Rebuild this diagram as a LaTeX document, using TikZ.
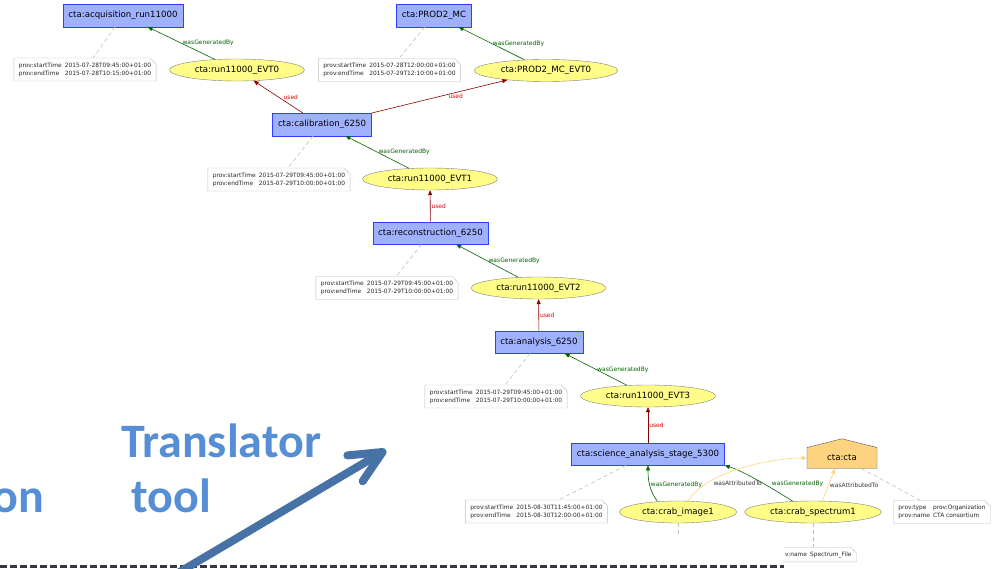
\documentclass[tikz,border=0pt]{standalone}
\usepackage{xcolor}
\usepackage{tikz}
\usepackage{fontspec}
\setmainfont{DejaVu Sans}
\newfontfamily\slidefont{Carlito}
\usetikzlibrary{
	arrows.meta,
	positioning,
	shapes.geometric,
	shapes.misc,
	shapes.symbols
}
\definecolor{actfill}{HTML}{9FB1FC}
\definecolor{actline}{HTML}{2F3FFF}
\definecolor{entfill}{HTML}{FFFC87}
\definecolor{entline}{HTML}{808080}
\definecolor{agtfill}{HTML}{FED37F}
\definecolor{agtline}{HTML}{505050}
\definecolor{notegray}{HTML}{BEBEBE}
\definecolor{wgbgreen}{HTML}{006400}
\definecolor{usedred}{HTML}{8B0000}
\definecolor{slideblue}{HTML}{558ED5}
\definecolor{arrowblue}{HTML}{4672A5}
\definecolor{dashgray}{HTML}{3A3545}
\newcommand{\notetable}[1]{%
	\begin{tabular}{@{}l@{\hspace{3pt}}l@{}}#1\end{tabular}}
\newcommand{\provtimes}[2]{\notetable{prov:startTime & #1\\prov:endTime & #2}}
\tikzset{
	activity/.style={
		rectangle, draw=actline, fill=actfill,
		font=\fontsize{8.6}{10}\selectfont,
		inner xsep=5.5pt, minimum height=22.5pt
	},
	entity/.style={
		ellipse, draw=entline, fill=entfill,
		font=\fontsize{8.6}{10}\selectfont,
		inner xsep=5.5pt, inner ysep=0pt, minimum height=22pt
	},
	agent/.style={
		signal, signal to=north, signal from=nowhere,
		signal pointer angle=152, draw=agtline, fill=agtfill,
		font=\fontsize{8.6}{10}\selectfont,
		minimum width=70pt, minimum height=25.5pt
	},
	provnote/.style={
		chamfered rectangle, chamfered rectangle corners=north east,
		chamfered rectangle sep=3pt, draw=notegray, fill=white,
		text=black!85, font=\fontsize{5.9}{8.3}\selectfont,
		inner xsep=2pt, inner ysep=0.2pt,
		path picture={
			\draw[notegray] ([xshift=-3pt]path picture bounding box.north east)
				|- ([yshift=-3pt]path picture bounding box.north east);
		}
	},
	wgb/.style={
		draw=wgbgreen, text=wgbgreen, line width=0.6pt,
		-{Triangle[length=5pt,width=4pt]},
		font=\fontsize{6}{7}\selectfont, inner sep=1pt
	},
	used/.style={
		draw=usedred, text=red!85!black, line width=0.6pt,
		-{Triangle[length=5pt,width=4pt]},
		font=\fontsize{6}{7}\selectfont, inner sep=1pt
	},
	wat/.style={
		draw=agtfill, text=black!80, line width=0.6pt,
		-{Triangle[length=5pt,width=4pt]},
		font=\fontsize{6}{7}\selectfont, inner sep=1pt
	},
	notelink/.style={
		draw=notegray, line width=0.6pt, dash pattern=on 4pt off 3pt
	},
	slidetext/.style={
		text=slideblue, inner sep=0pt,
		font=\slidefont\bfseries\fontsize{48}{55}\selectfont
	},
	bigarrow/.style={
		draw=arrowblue, line width=8pt, line cap=round,
		-{Straight Barb[length=32pt,width=30pt,round]}
	},
	slidedash/.style={
		draw=dashgray, line width=3pt, dash pattern=on 7pt off 3pt
	}
}

\begin{document}
\begin{tikzpicture}[x=1pt,y=-1pt]
	\useasboundingbox (0,0) rectangle (998,569);

	% slide text and the bottom rule
	\draw[slidedash] (0,566.5) -- (784,566.5);
	\node[slidetext,anchor=base west] (translator) at (121,457) {Translator};
	\node[slidetext,anchor=base west] (tool)       at (131.5,512) {tool};
	\node[slidetext,anchor=base west] (on)         at (-8,512) {on};

	% provenance graph
	\draw
		node [activity] (acq)   at (123,15.5)  {cta:acquisition\_run11000}
		node [activity] (prod)  at (434,15.5)  {cta:PROD2\_MC}
		node [entity]   (evt0)  at (237,70)    {cta:run11000\_EVT0}
		node [entity]   (mcevt) at (546,70.5)  {cta:PROD2\_MC\_EVT0}
		node [activity] (calib) at (322,124.5) {cta:calibration\_6250}
		node [entity]   (evt1)  at (430,179)   {cta:run11000\_EVT1}
		node [activity] (recon) at (430.5,233) {cta:reconstruction\_6250}
		node [entity]   (evt2)  at (538.5,288) {cta:run11000\_EVT2}
		node [activity] (ana)   at (539,342)   {cta:analysis\_6250}
		node [entity]   (evt3)  at (648,396)   {cta:run11000\_EVT3}
		node [activity] (sci)   at (648,454)   {cta:science\_analysis\_stage\_5300}
		node [entity]   (img)   at (678,512)   {cta:crab\_image1}
		node [entity]   (spec)  at (813,512)   {cta:crab\_spectrum1}
		node [agent]    (cta)   at (842,458)   {cta:cta}

		node [provnote] (acqnote)   at (85,69.5)    {\provtimes{2015-07-28T09:45:00+01:00}{2015-07-28T10:15:00+01:00}}
		node [provnote] (prodnote)  at (389.5,70)   {\provtimes{2015-07-28T12:00:00+01:00}{2015-07-29T12:10:00+01:00}}
		node [provnote] (calibnote) at (279,179.5)  {\provtimes{2015-07-29T09:45:00+01:00}{2015-07-29T10:00:00+01:00}}
		node [provnote] (reconnote) at (387,288)    {\provtimes{2015-07-29T09:45:00+01:00}{2015-07-29T10:00:00+01:00}}
		node [provnote] (ananote)   at (496,396.5)  {\provtimes{2015-07-29T09:45:00+01:00}{2015-07-29T10:00:00+01:00}}
		node [provnote] (scinote)   at (536.5,511.5) {\provtimes{2015-08-30T11:45:00+01:00}{2015-08-30T12:00:00+01:00}}
		node [provnote] (ctanote)   at (942,512)    {\notetable{prov:type & prov:Organization\\prov:name & CTA consortium}}

		(acq)   edge[notelink] (acqnote)
		(prod)  edge[notelink] (prodnote)
		(calib) edge[notelink] (calibnote)
		(recon) edge[notelink] (reconnote)
		(ana)   edge[notelink] (ananote)
		(sci)   edge[notelink] (scinote)
		(cta)   edge[notelink] (ctanote)

		(evt0)  edge[wgb] node[right] {wasGeneratedBy} (acq.-25)
		(mcevt) edge[wgb] node[right] {wasGeneratedBy} (prod.-25)
		(evt1)  edge[wgb] node[right] {wasGeneratedBy} (calib.-26)
		(evt2)  edge[wgb] node[right] {wasGeneratedBy} (recon.-24)
		(evt3)  edge[wgb] node[right] {wasGeneratedBy} (ana.-24)
		(img.153)  edge[wgb,out=125,in=-90] node[right] {wasGeneratedBy} (sci.south)
		(spec.152) edge[wgb,out=148,in=-17,looseness=0.7] node[right=11pt,yshift=-2.5pt] {wasGeneratedBy} (sci.south east)

		(calib.149) edge[used] node[right=4pt] {used} (evt0)
		(calib.13)  edge[used] node[pos=0.62,below] {used} (mcevt)
		(recon) edge[used] node[right] {used} (evt1)
		(ana)   edge[used] node[right] {used} (evt2)
		(sci)   edge[used] node[right] {used} (evt3)

		(img.47)  edge[wat,out=60,in=180,looseness=0.7] node[pos=0.25,right=3pt,yshift=-2pt] {wasAttributedTo} (cta.west)
		(spec.50) edge[wat] node[right] {wasAttributedTo} ([xshift=-7pt]cta.south)
	;

	% notes cut at the left by the slide
	\coordinate (imgnote) at (678,534);
	\draw (img) edge[notelink] (imgnote);
	\begin{scope}
		\clip (783.5,540) rectangle (998,569);
		\node[provnote,anchor=north west] (specnote) at (780,547) {\notetable{v:name & Spectrum\_File}};
	\end{scope}
	\draw (spec) edge[notelink] (spec |- specnote.north);

	% arrow of the slide
	\coordinate (arrowtail) at (178,573);
	\coordinate (arrowtip)  at (386,450);
	\draw[bigarrow] (arrowtail) -- (arrowtip);
\end{tikzpicture}
\end{document}
